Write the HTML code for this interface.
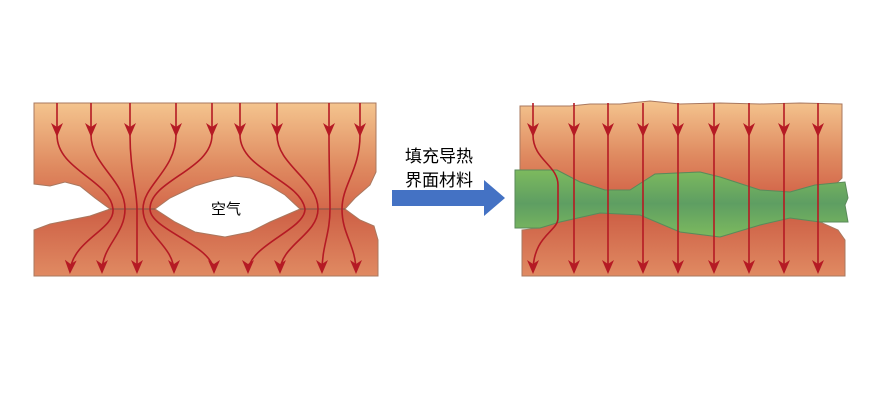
<!DOCTYPE html>
<html><head><meta charset="utf-8"><style>
html,body{margin:0;padding:0;background:#fff;width:892px;height:408px;overflow:hidden}
svg{display:block}
text{font-family:"Liberation Sans","Noto Sans CJK SC",sans-serif}
</style></head><body>
<svg width="892" height="408" viewBox="0 0 892 408" xmlns="http://www.w3.org/2000/svg">
<defs>
<linearGradient id="gt" x1="0" y1="0" x2="0" y2="1">
<stop offset="0" stop-color="#f4c48e"/><stop offset="0.6" stop-color="#df8a60"/><stop offset="1" stop-color="#d4684b"/></linearGradient>
<linearGradient id="gb" x1="0" y1="0" x2="0" y2="1">
<stop offset="0" stop-color="#cd5f45"/><stop offset="1" stop-color="#e08a62"/></linearGradient>
<linearGradient id="gg" x1="0" y1="0" x2="0" y2="1">
<stop offset="0" stop-color="#7dba5e"/><stop offset="0.5" stop-color="#5e9e62"/><stop offset="1" stop-color="#7dba5e"/></linearGradient>
<marker id="ah" markerWidth="14" markerHeight="12" refX="12" refY="6" orient="auto" markerUnits="userSpaceOnUse" viewBox="0 0 14 12">
<path d="M0,0 L4,6 L0,12 L14,6 Z" fill="#b51a24"/></marker>
</defs>
<!-- left figure -->
<path d="M34,103 L376,103 L376,172 L370,185 L355,198 L345,209 L300,209 L285,195 L270,186 L250,178 L235,176 L215,180 L195,186 L170,198 L155,209 L110,209 L95,198 L80,186 L65,182 L50,186 L34,184 Z" fill="url(#gt)" stroke="#a9785f" stroke-width="1"/>
<path d="M34,230 L50,224 L70,220 L90,216 L110,209 L155,209 L175,222 L195,232 L225,237 L250,232 L270,222 L300,209 L345,209 L360,220 L374,226 L378,240 L378,276 L34,276 Z" fill="url(#gb)" stroke="#a9785f" stroke-width="1"/>
<line x1="110" y1="209" x2="155" y2="209" stroke="#9a5a4a" stroke-width="1.5"/>
<line x1="300" y1="209" x2="345" y2="209" stroke="#9a5a4a" stroke-width="1.5"/>
<g fill="none" stroke="#b51a24" stroke-width="1.6">
<path d="M57,103 L57,135" marker-end="url(#ah)"/><path d="M57,135 C57,170 110,180 113,209 C115,230 72,240 70,272" marker-end="url(#ah)"/>
<path d="M91,103 L91,135" marker-end="url(#ah)"/><path d="M91,135 C91,165 125,180 125,209 C125,235 102,245 102,272" marker-end="url(#ah)"/>
<path d="M130,103 L130,135" marker-end="url(#ah)"/><path d="M130,135 C130,170 137,190 137,209 C137,235 137,245 137,272" marker-end="url(#ah)"/>
<path d="M176,103 L176,135" marker-end="url(#ah)"/><path d="M176,135 C176,170 143,185 143,209 C143,235 174,245 174,272" marker-end="url(#ah)"/>
<path d="M212,103 L212,135" marker-end="url(#ah)"/><path d="M212,135 C212,170 150,180 150,209 C150,230 214,245 214,272" marker-end="url(#ah)"/>
<path d="M240,103 L240,135" marker-end="url(#ah)"/><path d="M240,135 C240,170 300,180 305,209 C305,230 248,245 248,272" marker-end="url(#ah)"/>
<path d="M277,103 L277,135" marker-end="url(#ah)"/><path d="M277,135 C277,165 318,180 318,209 C318,235 280,245 280,272" marker-end="url(#ah)"/>
<path d="M329,103 L329,135" marker-end="url(#ah)"/><path d="M329,135 C329,170 330,190 330,209 C330,235 322,245 322,272" marker-end="url(#ah)"/>
<path d="M360,103 L360,135" marker-end="url(#ah)"/><path d="M360,135 C360,170 342,185 342,209 C342,235 356,245 356,272" marker-end="url(#ah)"/>
</g>
<text x="226" y="214" font-size="15" text-anchor="middle" fill="#000">空气</text>
<!-- middle -->
<text x="439" y="162" font-size="17" text-anchor="middle" fill="#000">填充导热</text>
<text x="439" y="186" font-size="17" text-anchor="middle" fill="#000">界面材料</text>
<path d="M392,190 L484,190 L484,180 L505,198 L484,216 L484,206 L392,206 Z" fill="#4472c4"/>
<!-- right figure -->
<path d="M520,106 L570,106 L590,104 L620,104 L650,101 L680,104 L720,103 L760,104 L800,103 L842,104 L842,178 L835,185 L815,185 L790,192 L760,190 L720,177 L700,172 L655,174 L630,190 L605,190 L580,182 L557,170 L520,170 Z" fill="url(#gt)" stroke="#a9785f"/>
<path d="M522,230 L540,228 L560,222 L600,213 L640,215 L680,232 L720,237 L760,225 L790,218 L820,222 L838,230 L845,240 L845,276 L522,276 Z" fill="url(#gb)" stroke="#a9785f"/>
<path d="M515,170 L557,170 L580,182 L605,190 L630,190 L655,174 L700,172 L720,177 L760,190 L790,192 L815,185 L845,182 L848,198 L845,205 L848,222 L820,222 L790,218 L760,225 L720,237 L680,232 L640,215 L600,213 L560,222 L540,228 L515,228 Z" fill="url(#gg)" stroke="#5a8a5a"/>
<g fill="none" stroke="#b51a24" stroke-width="1.6">
<path d="M533,103 L533,135" marker-end="url(#ah)"/><path d="M533,135 C533,160 558,165 558,185 L558,218 C558,232 533,235 533,272" marker-end="url(#ah)"/>
<path d="M574,103 L574,135" marker-end="url(#ah)"/><path d="M574,135 L574,272" marker-end="url(#ah)"/>
<path d="M608,103 L608,135" marker-end="url(#ah)"/><path d="M608,135 L608,272" marker-end="url(#ah)"/>
<path d="M643,103 L643,135" marker-end="url(#ah)"/><path d="M643,135 L643,272" marker-end="url(#ah)"/>
<path d="M678,103 L678,135" marker-end="url(#ah)"/><path d="M678,135 L678,272" marker-end="url(#ah)"/>
<path d="M714,103 L714,135" marker-end="url(#ah)"/><path d="M714,135 L714,272" marker-end="url(#ah)"/>
<path d="M749,103 L749,135" marker-end="url(#ah)"/><path d="M749,135 L749,272" marker-end="url(#ah)"/>
<path d="M784,103 L784,135" marker-end="url(#ah)"/><path d="M784,135 L784,272" marker-end="url(#ah)"/>
<path d="M818,103 L818,135" marker-end="url(#ah)"/><path d="M818,135 L818,272" marker-end="url(#ah)"/>
</g>
</svg>
</body></html>
